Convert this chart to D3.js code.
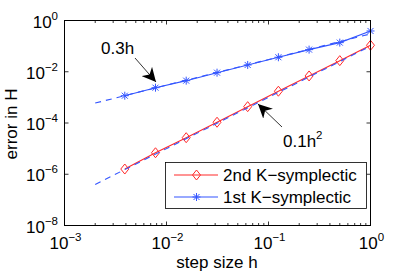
<!DOCTYPE html>
<html>
<head>
<meta charset="utf-8">
<script src="https://cdn.jsdelivr.net/npm/d3@7"></script>
<style>
  body { margin: 0; background: #fff; }
  svg text { font-family: "Liberation Sans", Arial, sans-serif; fill: #000; }
</style>
</head>
<body>
<div id="chart"></div>
<script>
// step sizes and errors
const stepSizes = [0.0039, 0.0078, 0.0156, 0.0313, 0.0625, 0.125, 0.25, 0.5, 1];
const err2nd = [1.6e-6, 6.9e-6, 2.67e-5, 1.07e-4, 4.34e-4, 1.74e-3, 6.86e-3, 2.71e-2, 0.108];
const err1st = [1.16e-3, 2.39e-3, 4.49e-3, 9.2e-3, 1.84e-2, 3.68e-2, 7.3e-2, 0.137, 0.39];

// dashed reference lines (end points)
const refH = [0.002, 1];
const refLinear = [6e-4, 0.3];
const refQuadratic = [4e-7, 0.1];

const xTicks = [1e-3, 1e-2, 1e-1, 1];
const xTickExp = ["−3", "−2", "−1", "0"];
const yTicks = [1e-8, 1e-6, 1e-4, 1e-2, 1];
const yTickExp = ["−8", "−6", "−4", "−2", "0"];

const legendLabels = ["2nd K−symplectic", "1st K−symplectic"];

const width = 409, height = 273;
const red = "#ff2a2a", blue = "#3355ff";

const svg = d3.select("#chart").append("svg")
    .attr("width", width)
    .attr("height", height);

const x = d3.scaleLog().domain([1e-3, 1]).range([64.5, 370.5]);
const y = d3.scaleLog().domain([1e-8, 1]).range([225.5, 20.5]);

// minor ticks on the x axis
const xMinor = [];
[1e-3, 1e-2, 1e-1].forEach(d => { for (let k = 2; k <= 9; k++) xMinor.push(d * k); });

const ticks = svg.append("g").attr("stroke", "#000").attr("stroke-width", 0.8);
xTicks.forEach(t => {
    ticks.append("line").attr("x1", x(t)).attr("x2", x(t)).attr("y1", 225.5).attr("y2", 221.5);
    ticks.append("line").attr("x1", x(t)).attr("x2", x(t)).attr("y1", 20.5).attr("y2", 24.5);
});
xMinor.forEach(t => {
    ticks.append("line").attr("x1", x(t)).attr("x2", x(t)).attr("y1", 225.5).attr("y2", 223);
    ticks.append("line").attr("x1", x(t)).attr("x2", x(t)).attr("y1", 20.5).attr("y2", 23);
});
yTicks.forEach(t => {
    ticks.append("line").attr("x1", 64.5).attr("x2", 68.5).attr("y1", y(t)).attr("y2", y(t));
    ticks.append("line").attr("x1", 370.5).attr("x2", 366.5).attr("y1", y(t)).attr("y2", y(t));
});

// tick labels with superscript exponents
xTicks.forEach((t, i) => {
    const txt = svg.append("text")
        .attr("x", x(t) + 1).attr("y", 249)
        .attr("text-anchor", "middle")
        .style("font-size", "17px");
    txt.append("tspan").text("10");
    txt.append("tspan").attr("dy", -8).style("font-size", "11.5px").text(xTickExp[i]);
});
yTicks.forEach((t, i) => {
    const txt = svg.append("text")
        .attr("x", 58).attr("y", y(t) + 7)
        .attr("text-anchor", "end")
        .style("font-size", "17px");
    txt.append("tspan").text("10");
    txt.append("tspan").attr("dy", -8).style("font-size", "11.5px").text(yTickExp[i]);
});

// axis labels
svg.append("text")
    .attr("x", 217).attr("y", 268)
    .attr("text-anchor", "middle")
    .style("font-size", "17px")
    .text("step size h");

svg.append("text")
    .attr("transform", "translate(16.5,124) rotate(-90)")
    .attr("text-anchor", "middle")
    .style("font-size", "17px")
    .text("error in H");

const line = d3.line().x(d => x(d[0])).y(d => y(d[1]));

function diamond(g, cx, cy) {
    g.append("path")
        .attr("d", `M${cx},${cy - 5}L${cx + 4},${cy}L${cx},${cy + 5}L${cx - 4},${cy}Z`)
        .attr("fill", "none").attr("stroke", red).attr("stroke-width", 1);
}
function asterisk(g, cx, cy) {
    const r = 4, q = 3;
    g.append("path")
        .attr("d", `M${cx - r},${cy}H${cx + r}M${cx},${cy - r}V${cy + r}` +
            `M${cx - q},${cy - q}L${cx + q},${cy + q}M${cx - q},${cy + q}L${cx + q},${cy - q}`)
        .attr("fill", "none").attr("stroke", blue).attr("stroke-width", 1);
}

// data lines
svg.append("path")
    .datum(stepSizes.map((h, i) => [h, err2nd[i]]))
    .attr("d", line)
    .attr("fill", "none").attr("stroke", red).attr("stroke-width", 1.1);
const redMarks = svg.append("g");
stepSizes.forEach((h, i) => diamond(redMarks, x(h), y(err2nd[i])));

svg.append("path")
    .datum(stepSizes.map((h, i) => [h, err1st[i]]))
    .attr("d", line)
    .attr("fill", "none").attr("stroke", blue).attr("stroke-width", 1.1);
const blueMarks = svg.append("g");
stepSizes.forEach((h, i) => asterisk(blueMarks, x(h), y(err1st[i])));

// reference slopes
[refLinear, refQuadratic].forEach(r => {
    svg.append("path")
        .datum(refH.map((h, i) => [h, r[i]]))
        .attr("d", line)
        .attr("fill", "none").attr("stroke", blue).attr("stroke-width", 1.1)
        .attr("stroke-dasharray", "6,5");
});

// annotation arrows
svg.append("defs").append("marker")
    .attr("id", "head")
    .attr("viewBox", "0 0 10 10")
    .attr("refX", 10).attr("refY", 5)
    .attr("markerWidth", 14).attr("markerHeight", 14)
    .attr("markerUnits", "userSpaceOnUse")
    .attr("orient", "auto")
    .append("path").attr("d", "M0,0L10,5L0,10L3,5Z").attr("fill", "#000");

svg.append("line")
    .attr("x1", 135).attr("y1", 58).attr("x2", 156).attr("y2", 82)
    .attr("stroke", "#000").attr("stroke-width", 0.8).attr("marker-end", "url(#head)");
svg.append("line")
    .attr("x1", 282).attr("y1", 127).attr("x2", 258).attr("y2", 104)
    .attr("stroke", "#000").attr("stroke-width", 0.8).attr("marker-end", "url(#head)");

svg.append("text").attr("x", 101).attr("y", 54).style("font-size", "17px").text("0.3h");
const q = svg.append("text").attr("x", 283).attr("y", 147).style("font-size", "17px");
q.append("tspan").text("0.1h");
q.append("tspan").attr("dy", -8).style("font-size", "11.5px").text("2");

// legend
const legend = svg.append("g");
legend.append("rect")
    .attr("x", 165.5).attr("y", 162.5).attr("width", 201).attr("height", 46)
    .attr("fill", "#fff").attr("stroke", "#000").attr("stroke-width", 0.8);
const rows = [175, 197];
legend.append("line").attr("x1", 174).attr("x2", 218).attr("y1", rows[0]).attr("y2", rows[0])
    .attr("stroke", red).attr("stroke-width", 1.1);
diamond(legend, 196.5, rows[0]);
legend.append("line").attr("x1", 174).attr("x2", 218).attr("y1", rows[1]).attr("y2", rows[1])
    .attr("stroke", blue).attr("stroke-width", 1.1);
asterisk(legend, 196.5, rows[1]);
legendLabels.forEach((l, i) => {
    legend.append("text")
        .attr("x", 223).attr("y", rows[i] + 6)
        .style("font-size", "17px")
        .text(l);
});

// axes box
svg.append("rect")
    .attr("x", 64.5).attr("y", 20.5).attr("width", 306).attr("height", 205)
    .attr("fill", "none").attr("stroke", "#000").attr("stroke-width", 1);
</script>
</body>
</html>
